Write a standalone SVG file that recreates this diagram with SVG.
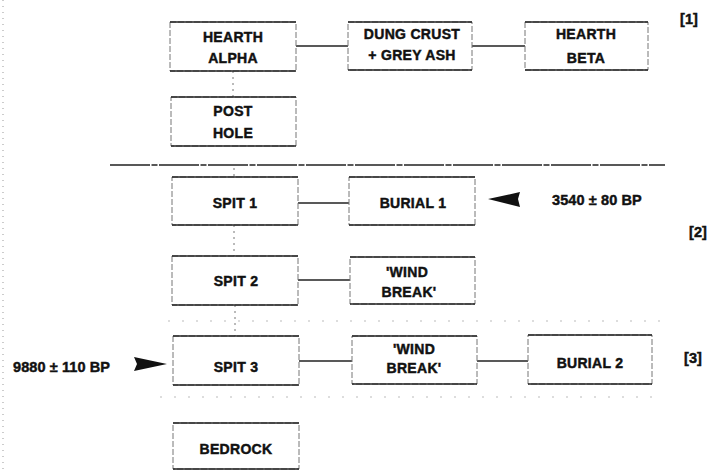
<svg xmlns="http://www.w3.org/2000/svg" width="708" height="471" viewBox="0 0 708 471">
<style>
.bg{fill:#fff}
.box{fill:#fff;stroke:#777;stroke-width:1;stroke-dasharray:6 2}
.edge{stroke:#222;stroke-width:1.6;fill:none}
.t{font-family:"Liberation Sans",Arial,sans-serif;font-weight:bold;font-size:14px;fill:#111;stroke:#111;stroke-width:0.45;text-anchor:middle;letter-spacing:0.3px}
.lab{font-family:"Liberation Sans",Arial,sans-serif;font-weight:bold;font-size:14.5px;fill:#111;stroke:#111;stroke-width:0.45;letter-spacing:0.1px}
.conn{stroke:#222;stroke-width:1.4;fill:none}
.vdot{stroke:#777;stroke-width:1;stroke-dasharray:2 4;fill:none}
.sep{stroke:#222;stroke-width:1.3;stroke-dasharray:40 1.5 6 1.5;fill:none}
.faint{stroke:#bbb;stroke-width:1;stroke-dasharray:2 12;fill:none}
.arr{fill:#111}
</style>
<rect class="bg" x="0" y="0" width="708" height="471"/>
<line x1="3" y1="0" x2="3" y2="471" stroke="#999" stroke-width="1" stroke-dasharray="1 5"/>
<g id="separators">
<line class="sep" x1="110" y1="165" x2="665" y2="165"/>
<line class="faint" x1="168" y1="321" x2="665" y2="321"/>
<line class="faint" x1="160" y1="397" x2="660" y2="397"/>
</g>
<g id="connectors">
<line class="conn" x1="296" y1="46" x2="348" y2="46"/>
<line class="conn" x1="472" y1="46" x2="525" y2="46"/>
<line class="vdot" x1="233" y1="71" x2="233" y2="97"/>
<line class="vdot" x1="234" y1="168" x2="234" y2="177"/>
<line class="vdot" x1="234" y1="225" x2="234" y2="256"/>
<line class="conn" x1="298" y1="203" x2="349" y2="203"/>
<line class="conn" x1="298" y1="280" x2="350" y2="280"/>
<line class="vdot" x1="235" y1="305" x2="235" y2="336"/>
<line class="conn" x1="299" y1="361" x2="352" y2="361"/>
<line class="conn" x1="477" y1="361" x2="528" y2="361"/>
<polygon class="arr" points="488,199 520,192 518,199 520,207"/>
<polygon class="arr" points="167,364 134,357 137,364 134,371"/>
</g>
<g id="hearth-alpha">
<rect class="box" x="170" y="22" width="126" height="49"/>
<path class="edge" d="M170 22H296M170 71H296"/>
<text class="t" x="233" y="42">HEARTH</text>
<text class="t" x="233" y="63">ALPHA</text>
</g>
<g id="dung-crust">
<rect class="box" x="348" y="22" width="124" height="48"/>
<path class="edge" d="M348 22H472M348 70H472"/>
<text class="t" x="412" y="39">DUNG CRUST</text>
<text class="t" x="412" y="60">+ GREY ASH</text>
</g>
<g id="hearth-beta">
<rect class="box" x="525" y="22" width="123" height="48"/>
<path class="edge" d="M525 22H648M525 70H648"/>
<text class="t" x="586" y="39">HEARTH</text>
<text class="t" x="586" y="63">BETA</text>
</g>
<g id="post-hole">
<rect class="box" x="171" y="97" width="125" height="49"/>
<path class="edge" d="M171 97H296M171 146H296"/>
<text class="t" x="233" y="116">POST</text>
<text class="t" x="233" y="138">HOLE</text>
</g>
<g id="spit-1">
<rect class="box" x="172" y="177" width="126" height="48"/>
<path class="edge" d="M172 177H298M172 225H298"/>
<text class="t" x="235" y="208">SPIT 1</text>
</g>
<g id="burial-1">
<rect class="box" x="349" y="177" width="126" height="48"/>
<path class="edge" d="M349 177H475M349 225H475"/>
<text class="t" x="413" y="208">BURIAL 1</text>
</g>
<g id="date-1">
<text class="lab" x="552" y="205">3540 ± 80 BP</text>
</g>
<g id="spit-2">
<rect class="box" x="172" y="256" width="126" height="49"/>
<path class="edge" d="M172 256H298M172 305H298"/>
<text class="t" x="236" y="286">SPIT 2</text>
</g>
<g id="wind-break-1">
<rect class="box" x="350" y="257" width="125" height="47"/>
<path class="edge" d="M350 257H475M350 304H475"/>
<text class="t" x="407" y="277">'WIND</text>
<text class="t" x="409" y="297">BREAK'</text>
</g>
<g id="spit-3">
<rect class="box" x="173" y="336" width="126" height="49"/>
<path class="edge" d="M173 336H299M173 385H299"/>
<text class="t" x="236" y="372">SPIT 3</text>
</g>
<g id="date-2">
<text class="lab" x="13" y="372">9880 ± 110 BP</text>
</g>
<g id="wind-break-2">
<rect class="box" x="352" y="336" width="125" height="48"/>
<path class="edge" d="M352 336H477M352 384H477"/>
<text class="t" x="414" y="354">'WIND</text>
<text class="t" x="414" y="373">BREAK'</text>
</g>
<g id="burial-2">
<rect class="box" x="528" y="335" width="124" height="49"/>
<path class="edge" d="M528 335H652M528 384H652"/>
<text class="t" x="590" y="368">BURIAL 2</text>
</g>
<g id="bedrock">
<rect class="box" x="173" y="423" width="126" height="46"/>
<path class="edge" d="M173 423H299M173 469H299"/>
<text class="t" x="236" y="454">BEDROCK</text>
</g>
<g id="phase-labels">
<text class="lab" x="680" y="24">[1]</text>
<text class="lab" x="689" y="237">[2]</text>
<text class="lab" x="684" y="363">[3]</text>
</g>
</svg>
